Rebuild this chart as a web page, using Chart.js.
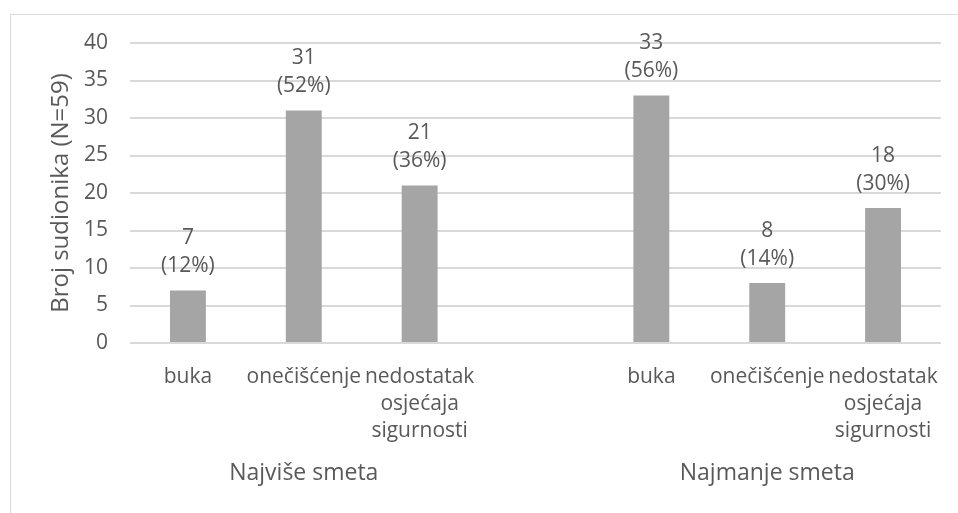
<!DOCTYPE html>
<html>
<head>
<meta charset="utf-8">
<script src="https://cdn.jsdelivr.net/npm/chart.js@4.4.1/dist/chart.umd.min.js"></script>
<style>
  html, body { margin: 0; padding: 0; background: #fff; }
  #frame { position: absolute; left: 10px; top: 14px; width: 1000px; height: 600px; border: 1px solid #d9d9d9; }
  #c { position: absolute; left: 0; top: 0; }
</style>
</head>
<body>
<div id="frame"></div>
<canvas id="c" width="958" height="513"></canvas>
<script>
// categories (4th slot is the gap between the two groups)
var categories = ['buka', 'onečišćenje', ['nedostatak', 'osjećaja', 'sigurnosti'], '', 'buka', 'onečišćenje', ['nedostatak', 'osjećaja', 'sigurnosti']];
var counts = [7, 31, 21, null, 33, 8, 18];
var percents = [12, 52, 36, null, 56, 14, 30];
var groups = [
  { label: 'Najviše smeta', from: 0, to: 2 },
  { label: 'Najmanje smeta', from: 4, to: 6 }
];

var textColor = '#595959';
var fontFamily = '"Open Sans", sans-serif';

var barLabels = {
  id: 'barLabels',
  afterDatasetsDraw: function (chart) {
    var ctx = chart.ctx;
    var meta = chart.getDatasetMeta(0);
    ctx.save();
    ctx.fillStyle = textColor;
    ctx.font = '21px ' + fontFamily;
    ctx.textAlign = 'center';
    ctx.textBaseline = 'middle';
    meta.data.forEach(function (bar, i) {
      if (counts[i] == null) return;
      ctx.fillText(String(counts[i]), bar.x, bar.y - 52);
      ctx.fillText('(' + percents[i] + '%)', bar.x, bar.y - 24);
    });
    ctx.restore();
  }
};

var groupLabels = {
  id: 'groupLabels',
  afterDraw: function (chart) {
    var ctx = chart.ctx;
    var x = chart.scales.x;
    ctx.save();
    ctx.fillStyle = textColor;
    ctx.font = '23px ' + fontFamily;
    ctx.textAlign = 'center';
    ctx.textBaseline = 'middle';
    groups.forEach(function (g) {
      var cx = (x.getPixelForValue(g.from) + x.getPixelForValue(g.to)) / 2;
      ctx.fillText(g.label, cx, x.top + 130);
    });
    ctx.restore();
  }
};

var chart = new Chart(document.getElementById('c'), {
  type: 'bar',
  data: {
    labels: categories,
    datasets: [{
      data: counts,
      backgroundColor: '#a5a5a5',
      barPercentage: 0.31,
      categoryPercentage: 1.0
    }]
  },
  options: {
    responsive: false,
    animation: false,
    layout: { padding: { left: 0, right: 17, top: 43, bottom: 0 } },
    plugins: {
      legend: { display: false },
      tooltip: { enabled: false }
    },
    scales: {
      x: {
        grid: { display: false },
        border: { display: false },
        ticks: {
          color: textColor,
          font: { family: fontFamily, size: 21, lineHeight: 1.29 },
          maxRotation: 0,
          autoSkip: false,
          padding: 12
        },
        afterFit: function (s) { s.height = 170; }
      },
      y: {
        min: 0,
        max: 40,
        ticks: {
          stepSize: 5,
          color: textColor,
          font: { family: fontFamily, size: 21 },
          padding: 22
        },
        grid: { color: '#d9d9d9', lineWidth: 2, drawTicks: false },
        border: { display: false },
        title: {
          display: true,
          text: 'Broj sudionika (N=59)',
          color: textColor,
          font: { family: fontFamily, size: 24 },
          padding: { top: 47, bottom: 0 }
        },
        afterFit: function (s) { s.width = 130; }
      }
    }
  },
  plugins: [barLabels, groupLabels]
});
</script>
</body>
</html>
